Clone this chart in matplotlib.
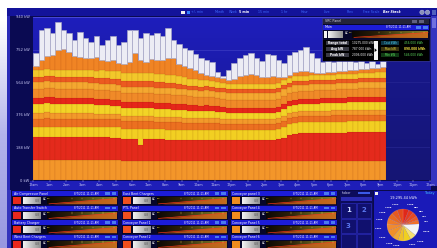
import numpy as np
import matplotlib
matplotlib.use("Agg")
import matplotlib.pyplot as plt
from matplotlib.patches import Rectangle, Polygon, Circle
from matplotlib.colors import LinearSegmentedColormap

W, H = 437, 248

# ---------------- data (kW, 20-minute intervals from 12am) ----------------
total_kw = [732, 865, 877, 848, 911, 865, 848, 807, 854, 819,
            796, 830, 779, 807, 830, 779, 796, 865, 865, 819,
            848, 836, 848, 830, 877, 807, 784, 761, 750, 727,
            704, 692, 680, 623, 600, 634, 675, 704, 721, 732,
            704, 686, 727, 721, 692, 675, 721, 738, 750, 767,
            732, 704, 680, 692, 680, 704, 692, 709, 680, 704,
            675, 692, 669, 692]
colored_top_kw = [657, 692, 715, 721, 750, 755, 738, 715, 709, 704,
                  704, 709, 692, 686, 692, 675, 669, 680, 732, 692,
                  680, 698, 692, 692, 704, 704, 669, 657, 646, 634,
                  617, 606, 600, 594, 588, 577, 582, 600, 606, 611,
                  606, 594, 594, 600, 594, 594, 606, 623, 629, 629,
                  623, 617, 617, 623, 623, 629, 629, 634, 634, 640,
                  640, 646, 646, 652]
m01 = [115, 115, 115, 115, 115, 115, 115, 115, 115, 115, 115, 115, 115, 115, 115, 115,
       107, 107, 107, 107, 107, 107, 107, 107, 107, 107, 107, 107, 107, 107, 107, 107,
       107, 107, 107, 107, 107, 107, 107, 107, 107, 107, 107, 107, 107, 107, 107, 107,
       107, 107, 107, 107, 107, 107, 107, 107, 107, 107, 107, 107, 107, 107, 107, 107]
m02 = [133, 134, 135, 134, 133, 134, 133, 132, 133, 134, 133, 132, 131, 132, 130, 130,
       128, 129, 130, 92, 127, 128, 127, 127, 126, 126,
       125, 125, 124, 124, 123, 124, 124, 123, 123,
       123, 123, 124, 124, 124, 123, 123, 124, 124, 128, 138,
       152, 160, 163, 164, 164, 165, 165, 165, 166, 166, 166, 167, 167, 167, 168, 168, 168, 168]
m03 = [57, 58, 58, 59, 58, 58, 57, 58, 58, 59, 58, 57, 58, 58, 58, 58,
       58, 58, 58, 96, 60, 58, 58, 58, 58, 58,
       58, 58, 58, 57, 57, 58, 58, 58, 58,
       58, 58, 58, 58, 58, 58, 58, 58, 58, 59, 61,
       62, 63, 63, 63, 63, 63, 63, 63, 64, 64, 64, 64, 64, 64, 64, 64, 64, 64]
m04 = [46, 46, 47, 46, 46, 46, 46, 46, 46, 46, 46, 46, 46, 46, 46, 46,
       46, 46, 46, 46, 46, 46, 45, 45, 44, 43,
       42, 41, 40, 40, 40, 40, 39, 38, 37,
       36, 35, 35, 35, 35, 35, 35, 35, 35, 35, 35,
       35, 35, 35, 36, 36, 36, 36, 36, 36, 37, 37, 37, 37, 37, 38, 38, 38, 38]
m05 = [35, 35, 35, 35, 35, 35, 35, 35, 34, 34, 34, 33, 33, 32, 32, 31,
       30, 30, 29, 29, 29, 29, 29, 29, 29, 29,
       29, 29, 29, 29, 29, 29, 29, 29, 29,
       29, 29, 29, 29, 29, 29, 29, 29, 29, 29, 29,
       29, 29, 29, 29, 29, 29, 29, 29, 29, 29, 29, 29, 29, 29, 29, 29, 29, 29]
m06 = [52, 52, 53, 52, 52, 52, 52, 52, 51, 51, 50, 50, 49, 48, 48, 47,
       46, 46, 46, 46, 46, 46, 45, 45, 44, 43,
       42, 41, 40, 40, 40, 40, 39, 38, 37,
       36, 35, 35, 35, 35, 35, 35, 35, 35, 36, 38,
       40, 40, 40, 41, 41, 41, 42, 42, 42, 43, 43, 44, 44, 45, 45, 46, 46, 46]
m07 = [35, 35, 35, 35, 35, 35, 35, 35, 35, 35, 35, 35, 35, 35, 35, 35,
       35, 35, 35, 35, 35, 35, 35, 35, 35, 35,
       35, 35, 34, 34, 33, 33, 32, 31, 30,
       29, 29, 29, 29, 29, 29, 29, 29, 29, 29, 29,
       29, 29, 29, 29, 29, 29, 29, 29, 29, 29, 29, 29, 29, 29, 29, 29, 29, 29]
m08 = [52, 52, 52, 52, 52, 52, 52, 52, 52, 52, 52, 52, 52, 52, 52, 52,
       52, 52, 52, 52, 52, 52, 52, 52, 52, 52,
       52, 52, 51, 50, 50, 49, 48, 47, 46,
       46, 46, 46, 46, 46, 46, 46, 46, 46, 46, 46,
       46, 46, 46, 46, 47, 47, 47, 48, 48, 48, 49, 49, 50, 50, 51, 51, 52, 52]
m09 = [40, 40, 40, 40, 40, 40, 40, 40, 39, 38, 38, 37, 37, 36, 36, 35,
       35, 35, 35, 35, 35, 35, 35, 35, 35, 35,
       35, 35, 35, 36, 36, 37, 38, 39, 40,
       40, 40, 40, 40, 40, 40, 40, 40, 40, 40, 40,
       38, 37, 36, 35, 35, 35, 35, 35, 35, 35, 35, 35, 35, 35, 35, 35, 35, 35]
m10 = [29, 29, 29, 29, 29, 29, 29, 29, 30, 30, 31, 31, 32, 33, 33, 34,
       35, 35, 35, 35, 35, 34, 33, 32, 31, 29,
       28, 27, 26, 25, 24, 23, 23, 23, 23,
       23, 23, 23, 23, 23, 23, 23, 23, 23, 23, 23,
       23, 23, 23, 23, 23, 23, 23, 23, 23, 23, 23, 23, 23, 23, 23, 23, 23, 23]
m11 = [40, 40, 40, 40, 40, 40, 40, 41, 41, 42, 42, 43, 44, 44, 45, 45,
       46, 46, 46, 46, 46, 46, 46, 46, 46, 46,
       44, 42, 40, 39, 37, 35, 33, 31, 30,
       29, 29, 29, 29, 29, 29, 29, 29, 29, 29, 29,
       29, 29, 29, 29, 29, 29, 29, 29, 29, 29, 29, 29, 29, 29, 29, 29, 29, 29]
meter_layers = [m01, m02, m03, m04, m05, m06, m07, m08, m09, m10, m11]
layer_colors = ['#f3962a', '#e42a1c', '#f2cf22', '#ec7020', '#f39a2a', '#f2d426',
                '#e6261a', '#f08a28', '#f4a830', '#ec5a20', '#f2c82a']
top_color = '#f08424'
white_color = '#ececf4'

y_ticks = [0, 188, 376, 564, 752, 940]
y_tick_labels = ["0 kW", "188 kW", "376 kW", "564 kW", "752 kW", "940 kW"]
x_ticks = list(range(25))
x_tick_labels = ["12am", "1am", "2am", "3am", "4am", "5am", "6am", "7am", "8am", "9am",
                 "10am", "11am", "12pm", "1pm", "2pm", "3pm", "4pm", "5pm", "6pm", "7pm",
                 "8pm", "9pm", "10pm", "11pm", "12am"]

toolbar_labels = ["+/- min", "Month", "Week", "5 min", "15 min", "1 hr", "Hour", "Live", "Prev", "Free Scale", "Bar Stack"]
meter_names = [["Air Compressor Panel", "Auto Transfer Switch", "Battery Charger", "West Bent Chargers"],
               ["East Bent Chargers", "PTL Panel", "Conveyor Panel 1", "Conveyor Panel 2"],
               ["Conveyor panel 3", "Conveyor Panel 4", "Conveyor Panel 5", "Conveyor Panel 6"]]
meter_square_colors = ['#e8281c', '#f0501e', '#f08c1e']
stamp = "8/7/2011 11:11 AM"

info_left_labels = ["Range total", "Avg kW", "Peak kW"]
info_left_values = ["10275.000 kWh", "787.000 kWh", "2006.000 kWh"]
info_right_labels = ["Cost kWh", "Max kW", "Min kW"]
info_right_values = ["456.000 kWh", "890.000 kWh", "546.000 kWh"]

pie_total_label = "19,295.44 kWh"
pie_kwh = [1158, 965, 965, 772, 772, 2315, 1158, 1351, 1158, 1158, 1544, 1351, 1158, 1158, 1158, 1154]
pie_colors = ['#e02818', '#e63a1e', '#e84a20', '#ec5a22', '#f07028', '#f4f4f4', '#f6e070', '#f0d020',
              '#f0c028', '#f0a830', '#f09028', '#f08a30', '#ee7a28', '#e86a20', '#e65a1e', '#e44a1c']

# ---------------- figure ----------------
fig = plt.figure(figsize=(W / 100, H / 100), dpi=100)
fig.patch.set_facecolor('white')
bg = fig.add_axes([0, 0, 1, 1], zorder=0)
bg.set_xlim(0, W)
bg.set_ylim(H, 0)
bg.axis('off')


def rect(a, x, y, w, h, fc, ec='none', lw=0.0, z=1, alpha=1.0):
    a.add_patch(Rectangle((x, y), w, h, facecolor=fc, edgecolor=ec, linewidth=lw, zorder=z, alpha=alpha))


def txt(a, x, y, s, size=2.5, color='white', ha='left', va='center', weight='normal', z=6, style='normal'):
    a.text(x, y, s, fontsize=size, color=color, ha=ha, va=va, fontweight=weight, zorder=z, fontstyle=style)


def hgrad(a, x0, x1, y0, y1, colors, z=2):
    cm = LinearSegmentedColormap.from_list('g', colors)
    a.imshow(np.linspace(0, 1, 128).reshape(1, -1), extent=(x0, x1, y1, y0), cmap=cm,
             aspect='auto', zorder=z, interpolation='bilinear')


def vgrad(a, x0, x1, y0, y1, colors, z=2):
    cm = LinearSegmentedColormap.from_list('g', colors)
    a.imshow(np.linspace(0, 1, 128).reshape(-1, 1), extent=(x0, x1, y1, y0), cmap=cm,
             aspect='auto', zorder=z, interpolation='bilinear')


# left lavender strip and dashboard body
vgrad(bg, 0, 7, 20, H, ['#ffffff', '#b4b4ec', '#9898e0'], z=1)
rect(bg, 7, 8, W - 7, H - 8, '#0b0b4c', z=1)
# toolbar
rect(bg, 7, 8, W - 7, 8, '#13139a', z=2)
rect(bg, 7, 15.5, W - 7, 0.6, '#3030c8', z=3)
rect(bg, 181, 10.5, 3.5, 3.5, '#f0f0f0', z=4)
rect(bg, 186.5, 10.5, 3.5, 3.5, '#3080ff', z=4)
tb_x = [197, 220, 233, 244, 264, 284, 304, 327, 350, 371, 392]
for xx, lab in zip(tb_x, toolbar_labels):
    sel = lab in ("5 min", "Bar Stack")
    txt(bg, xx, 12.3, lab, size=2.3, color='white' if sel else '#3f6cff', ha='center',
        weight='bold' if sel else 'normal', style='italic' if lab == "Bar Stack" else 'normal', z=5)
for cx in (422, 427.5):
    bg.add_patch(Circle((cx, 12.3), 2.2, facecolor='#8890b8', edgecolor='#d0d0f0', lw=0.3, zorder=5))
rect(bg, 432, 9.5, 4, 5, '#5060c0', z=5)

# chart panel
rect(bg, 7, 16, W - 7, 174, '#0a0a52', z=2)
rect(bg, 7, 16, 2.5, 174, '#2a2ab8', z=3)
rect(bg, 431, 16, 6, 170, '#3434c0', z=3)
rect(bg, 432, 18, 4, 10, '#7070e0', z=4)
rect(bg, 30, 180.5, 401, 9, '#1e1eb8', z=3)
rect(bg, 30, 180.5, 401, 0.6, '#5050e0', z=4)

# ---------------- main stacked bar chart ----------------
ax = fig.add_axes([33 / W, (H - 180) / H, 397 / W, 163 / H], zorder=2)
ax.set_xlim(0, 24)
ax.set_ylim(0, 940)
cm_bg = LinearSegmentedColormap.from_list('bgc', ['#1e1ebc', '#1a1aa0', '#16167c'])
ax.imshow(np.linspace(0, 1, 64).reshape(-1, 1), extent=(0, 24, 0, 940), cmap=cm_bg,
          aspect='auto', zorder=0)
ax.set_facecolor('#1a1aa0')
for yt in y_ticks[1:-1]:
    ax.axhline(yt, color='#4444c8', lw=0.4, zorder=0.5)

n = len(total_kw)
times = np.arange(n) / 3.0
bottom = np.zeros(n)
for vals, col in zip(meter_layers, layer_colors):
    v = np.array(vals, dtype=float)
    ax.bar(times, v, width=1 / 3, bottom=bottom, align='edge', color=col,
           edgecolor=(0.45, 0.1, 0.0, 0.18), linewidth=0.35, zorder=2)
    bottom = bottom + v
top_layer = np.array(colored_top_kw, dtype=float) - bottom
ax.bar(times, top_layer, width=1 / 3, bottom=bottom, align='edge', color=top_color,
       edgecolor=(0.5, 0.15, 0.0, 0.2), linewidth=0.35, zorder=2)
white_layer = np.array(total_kw, dtype=float) - np.array(colored_top_kw, dtype=float)
ax.bar(times, white_layer, width=1 / 3, bottom=colored_top_kw, align='edge', color=white_color,
       edgecolor='#a6a6c4', linewidth=0.45, zorder=2)

ax.set_yticks(y_ticks)
ax.set_yticklabels(y_tick_labels)
ax.set_xticks(x_ticks)
ax.set_xticklabels(x_tick_labels)
ax.tick_params(axis='both', labelsize=2.4, colors='#c8c8f4', length=1.2, width=0.3, pad=1.2)
ax.tick_params(axis='y', labelsize=2.6, pad=2.5, length=0)
for s in ('left', 'right', 'bottom'):
    ax.spines[s].set_visible(False)
ax.spines['top'].set_color('#5a5ae0')
ax.spines['top'].set_linewidth(0.5)

# ---------------- foreground overlays ----------------
fg = fig.add_axes([0, 0, 1, 1], zorder=3)
fg.set_xlim(0, W)
fg.set_ylim(H, 0)
fg.axis('off')
fg.patch.set_alpha(0)

# right dark zone under info panel
rect(fg, 386, 62, 44.5, 118, '#15156e', z=1, alpha=0.55)


def meter_bar(a, x0, x1, y0, y1, z0=3):
    hgrad(a, x0, x1, y0, y1, ['#0c0804', '#2c2008', '#5e5a1c', '#8a8428'], z=z0)
    a.add_patch(Polygon([(x0 + 6, y1), (x1, y0 + 1.2), (x1, y1)], closed=True,
                        facecolor='#d8641a', edgecolor='none', alpha=0.75, zorder=z0 + 1))
    a.plot([x0 + 2, x1], [y1 - 0.4, y0 + 1.2], color='#ff3a1c', lw=0.45, zorder=z0 + 2)
    for k in range(5):
        tx = x0 + (x1 - x0) * (0.35 + 0.15 * k)
        a.plot([tx, tx], [y0 + 0.5, y0 + 2.0], color='#e0d060', lw=0.3, zorder=z0 + 2)


def widget(a, x, y, name, sq, w=106):
    rect(a, x, y, w, 5, '#1c1cd8', z=2)
    txt(a, x + 1.5, y + 2.6, name, size=2.3)
    txt(a, x + 62, y + 2.6, stamp, size=1.9)
    rect(a, x + w - 13, y + 1.3, 4.5, 2.6, '#4a7af0', z=3)
    rect(a, x + w - 6.5, y + 1.3, 4.5, 2.6, '#4a7af0', z=3)
    rect(a, x, y + 5, w, 9, '#06062a', z=2)
    rect(a, x + 1, y + 6.3, 8, 7, sq, z=3)
    hgrad(a, x + 11, x + 29, y + 6.3, y + 13.3, ['#f4f4f4', '#c0c0c0', '#909090'], z=3)
    txt(a, x + 25, y + 9.8, "8.8", size=2.3, color='#606060', ha='center')
    txt(a, x + 30.5, y + 8.3, "AC", size=2.2, color='#e8e8e8')
    txt(a, x + 35, y + 7.3, "kW", size=1.6, color='#f0e040')
    meter_bar(a, x + 35, x + w - 1, y + 6.3, y + 13.3)


# bottom area
rect(fg, 7, 190, W - 7, 58, '#0a0a4a', z=1)
rect(fg, 7, 190, 3.5, 58, '#3434bc', z=1.5)
col_x = [12, 121.5, 231]
row_y = [191, 205.5, 220, 234.5]
for ci in range(3):
    for ri in range(4):
        widget(fg, col_x[ci], row_y[ri], meter_names[ci][ri], meter_square_colors[ci])

# small keypad panel
rect(fg, 339.5, 190.5, 33, 57.5, '#0c0c5c', z=2)
txt(fg, 342, 193, "Indoor", size=2.2, color='#e0e0ff')
rect(fg, 358, 191.5, 12, 2.8, '#3a5ae8', z=3)
rect(fg, 340.5, 197, 31, 4, '#2a2ab4', z=3)
cells = [(341, 203, "1", '#c8d4ff'), (356.5, 203, "2", '#5a78f0'), (341, 218.5, "3", '#5a78f0'),
         (356.5, 218.5, "", ''), (341, 234, "", ''), (356.5, 234, "", '')]
for cx, cy, lab, cc in cells:
    rect(fg, cx, cy, 14.5, 14.5, '#10106e', ec='#2a2ab8', lw=0.5, z=3)
    if lab:
        txt(fg, cx + 7.25, cy + 7.5, lab, size=5, color=cc, ha='center', weight='bold')

# pie panel
rect(fg, 373.5, 190.5, 63.5, 57.5, '#1a1ab8', z=2)
rect(fg, 375, 191.5, 3, 3, '#f0f0f0', z=3)
txt(fg, 430, 193, "Today", size=2.4, color='#40c0ff', ha='center')
txt(fg, 404, 198.3, pie_total_label, size=2.5, color='white', ha='center')
pcx, pcy, pr = 403, 225, 16
pax = fig.add_axes([(pcx - 2.5 * pr / 2) / W, (H - pcy - 2.5 * pr / 2) / H, 2.5 * pr / W, 2.5 * pr / H], zorder=4)
pax.pie(pie_kwh, colors=pie_colors, startangle=90, counterclock=False,
        labels=[f"{v:,}" for v in pie_kwh], labeldistance=1.3,
        textprops=dict(fontsize=1.7, color='white', fontweight='bold'),
        wedgeprops=dict(linewidth=0.2, edgecolor=(1, 1, 1, 0.35)))
pax.set_xlim(-1.25, 1.25)
pax.set_ylim(-1.25, 1.25)
pax.axis('off')

# SRC info panel
rect(fg, 322, 18, 108, 43, '#08082e', ec='#4040a0', lw=0.4, z=5)
rect(fg, 323, 19, 106, 5, '#24243a', z=6)
txt(fg, 325, 21.5, "SRC Panel", size=2.3, color='#d0d0e0', z=7)
rect(fg, 412, 19.8, 5, 3, '#606080', z=7)
rect(fg, 419, 19.8, 5, 3, '#606080', z=7)
rect(fg, 323, 25, 106, 5, '#1c1cd8', z=6)
txt(fg, 325, 27.5, "Main", size=2.3, z=7)
txt(fg, 386, 27.5, stamp, size=1.9, z=7)
rect(fg, 416, 26.3, 4.5, 2.6, '#4a7af0', z=7)
rect(fg, 423, 26.3, 4.5, 2.6, '#4a7af0', z=7)
rect(fg, 323, 30.5, 106, 8, '#06062a', z=6)
rect(fg, 323.5, 31.3, 3, 6.5, '#f4f4f4', z=7)
hgrad(fg, 328, 343, 31.3, 37.8, ['#f4f4f4', '#c0c0c0', '#909090'], z=7)
txt(fg, 345, 33, "AC", size=2.2, color='#e8e8e8', z=8)
txt(fg, 349, 32.3, "kW", size=1.6, color='#f0e040', z=8)
meter_bar(fg, 352, 428, 31.3, 37.8, z0=7)
rect(fg, 323, 39.5, 106, 21, '#000000', z=6)
for k in range(3):
    yy = 43.2 + 6 * k
    rect(fg, 326, yy - 2.2, 23, 4.4, '#3a3a44', z=7)
    txt(fg, 337.5, yy, info_left_labels[k], size=2.1, ha='center', weight='bold', z=8)
    txt(fg, 352, yy, info_left_values[k], size=2.1, z=8)
rect(fg, 374, 41, 3.5, 18.5, '#f4f4f4', z=7)
fg.add_patch(Polygon([(374.6, 48.3), (376.9, 50.2), (374.6, 52.1)], closed=True,
                     facecolor='black', zorder=8))
rc = ['#50d0f0', '#f0e040', '#60e060']
rbox = ['#103848', '#3a3410', '#103a14']
for k in range(3):
    yy = 43.2 + 6 * k
    rect(fg, 381, yy - 2.2, 18, 4.4, rbox[k], z=7)
    txt(fg, 390, yy, info_right_labels[k], size=2.0, color=rc[k], ha='center', z=8)
    txt(fg, 404, yy, info_right_values[k], size=2.1, color=rc[k] if k != 0 else '#60e060',
        weight='bold' if k == 1 else 'normal', z=8)

fig.savefig("out.png", dpi=100, facecolor=fig.get_facecolor())
